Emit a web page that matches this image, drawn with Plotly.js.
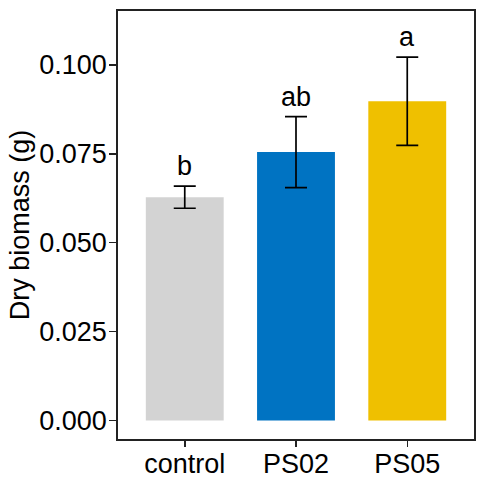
<!DOCTYPE html>
<html>
<head>
<meta charset="utf-8">
<script src="https://cdn.plot.ly/plotly-3.0.1.min.js"></script>
<style>html,body{margin:0;padding:0;background:#fff;}#chart{width:484px;height:478px;}</style>
</head>
<body>
<div id="chart"></div>
<script>
var categories = ["control", "PS02", "PS05"];
var means = [0.0628, 0.0755, 0.0898];
var errors = [0.0031, 0.0100, 0.0124];
var letters = ["b", "ab", "a"];
var barColors = ["#D3D3D3", "#0073C2", "#EFC000"];
var yTickVals = [0, 0.025, 0.05, 0.075, 0.1];
var yTickText = ["0.000", "0.025", "0.050", "0.075", "0.100"];

var font = "Liberation Sans, Arial, Helvetica, sans-serif";

var trace = {
  type: "bar",
  x: categories,
  y: means,
  width: 0.7,
  marker: {color: barColors, line: {width: 0}},
  error_y: {type: "data", array: errors, visible: true, color: "#000000", thickness: 1.7, width: 11},
  hoverinfo: "none"
};

var annotations = categories.map(function (c, i) {
  return {
    x: c, y: means[i] + errors[i], xref: "x", yref: "y",
    text: letters[i], showarrow: false, yanchor: "bottom", yshift: 3,
    font: {family: font, size: 27, color: "#000"}
  };
});

var layout = {
  width: 484, height: 478,
  margin: {l: 118, r: 10, t: 11, b: 39},
  paper_bgcolor: "#fff", plot_bgcolor: "#fff",
  showlegend: false,
  bargap: 0.3,
  xaxis: {
    type: "category", range: [-0.6, 2.6],
    showgrid: false, zeroline: false,
    showline: true, mirror: true, linecolor: "#222", linewidth: 1.8,
    ticks: "outside", ticklen: 6, tickwidth: 1.5, tickcolor: "#222",
    ticklabelstandoff: -6,
    tickfont: {family: font, size: 27, color: "#000"}
  },
  yaxis: {
    range: [-0.00523, 0.1152],
    tickvals: yTickVals, ticktext: yTickText,
    showgrid: false, zeroline: false,
    showline: true, mirror: true, linecolor: "#222", linewidth: 1.8,
    ticks: "outside", ticklen: 7, tickwidth: 1.5, tickcolor: "#222",
    ticklabelstandoff: -3,
    tickfont: {family: font, size: 27, color: "#000"},
    title: {text: "Dry biomass (g)", font: {family: font, size: 27, color: "#000"}, standoff: 2}
  },
  annotations: annotations
};

Plotly.newPlot("chart", [trace], layout, {displayModeBar: false, staticPlot: true});
</script>
</body>
</html>
